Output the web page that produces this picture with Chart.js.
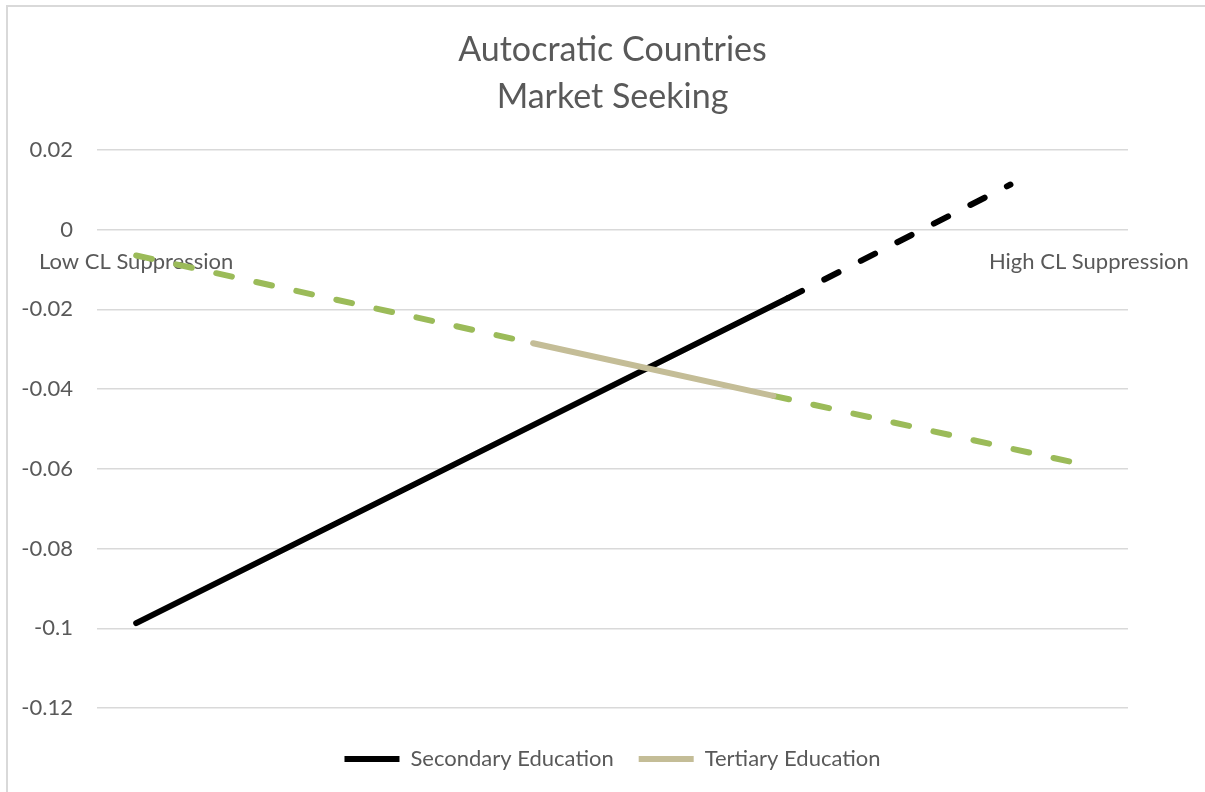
<!DOCTYPE html>
<html>
<head>
<meta charset="utf-8">
<script src="https://cdn.jsdelivr.net/npm/chart.js@4"></script>
<style>
  body { margin: 0; background: #fff; overflow: hidden; }
  #frame { position: absolute; left: 6px; top: 5px; width: 1220px; height: 810px; border: 2px solid #d9d9d9; }
  #wrap { position: absolute; left: 0; top: 0; width: 1205px; height: 792px; }
</style>
</head>
<body>
<div id="frame"></div>
<div id="wrap"><canvas id="chart" width="1205" height="792"></canvas></div>
<script>
// category labels on the horizontal axis and where they sit (0-100 scale)
const catLabels = ["Low CL Suppression", "High CL Suppression"];
const catPos = [3.8, 96.2];

// y axis ticks
const yTicks = [0.02, 0, -0.02, -0.04, -0.06, -0.08, -0.1, -0.12];

// Secondary education: solid part, then dashed part
const secSolidX = [3.8, 67.0];
const secSolidY = [-0.0987, -0.0172];
const secDashX = [67.0, 88.6];
const secDashY = [-0.0172, 0.0113];

// Tertiary education: dashed, solid, dashed
const terDashLeftX = [3.8, 42.3];
const terDashLeftY = [-0.0065, -0.0285];
const terSolidX = [42.3, 65.6];
const terSolidY = [-0.0285, -0.0417];
const terDashRightX = [65.6, 94.9];
const terDashRightY = [-0.0417, -0.0585];

const FONT = "Lato, 'Liberation Sans', sans-serif";
const TEXT = "#595959";

function pts(xs, ys) {
    return xs.map((x, i) => ({ x: x, y: ys[i] }));
}

function lineSet(label, xs, ys, color, dashed, order) {
    return {
        label: label,
        data: pts(xs, ys),
        borderColor: color,
        backgroundColor: color,
        borderWidth: 6,
        borderCapStyle: "round",
        borderJoinStyle: "round",
        borderDash: dashed ? [16, 25] : [],
        pointRadius: 0,
        pointHoverRadius: 0,
        fill: false,
        tension: 0,
        order: order
    };
}

const ctx = document.getElementById("chart").getContext("2d");
const chart = new Chart(ctx, {
    type: "line",
    data: {
        datasets: [
            lineSet("Secondary Education", secSolidX, secSolidY, "#000000", false, 2),
            lineSet("", secDashX, secDashY, "#000000", true, 2),
            lineSet("Tertiary Education", terSolidX, terSolidY, "#C4BD97", false, 0),
            lineSet("", terDashLeftX, terDashLeftY, "#9BBB59", true, 1),
            lineSet("", terDashRightX, terDashRightY, "#9BBB59", true, 1)
        ]
    },
    options: {
        responsive: false,
        animation: false,
        layout: { padding: { left: 0, right: 77, top: 0, bottom: 12 } },
        plugins: {
            title: {
                display: true,
                fullSize: false,
                text: ["Autocratic Countries", "Market Seeking"],
                color: TEXT,
                font: { family: FONT, size: 34, weight: "normal", lineHeight: 1.38 },
                padding: { top: 27, bottom: 29 }
            },
            legend: {
                position: "bottom",
                fullSize: false,
                title: { display: true, text: " ", font: { size: 10, lineHeight: 1 }, padding: { top: 5, bottom: 0 } },
                labels: {
                    usePointStyle: true,
                    pointStyle: "line",
                    pointStyleWidth: 55,
                    color: TEXT,
                    font: { family: FONT, size: 22 },
                    padding: 25,
                    filter: item => item.text !== "",
                    sort: (a, b) => a.datasetIndex - b.datasetIndex
                }
            },
            tooltip: { enabled: false }
        },
        scales: {
            x: {
                type: "linear",
                min: 0,
                max: 100,
                position: { y: 0 },
                grid: { display: false, drawTicks: false },
                border: { display: false },
                afterBuildTicks: scale => {
                    scale.ticks = catPos.map(v => ({ value: v }));
                },
                afterFit: scale => {
                    scale.paddingLeft = 0;
                    scale.paddingRight = 0;
                },
                ticks: {
                    autoSkip: false,
                    maxRotation: 0,
                    padding: 19,
                    color: TEXT,
                    font: { family: FONT, size: 22 },
                    callback: (v, i) => catLabels[i]
                }
            },
            y: {
                min: -0.12,
                max: 0.02,
                afterFit: scale => { scale.width = 97; },
                afterBuildTicks: scale => {
                    scale.ticks = yTicks.map(v => ({ value: v }));
                },
                grid: { color: "#d9d9d9", lineWidth: 1.5, drawTicks: false },
                border: { display: false },
                ticks: {
                    padding: 24,
                    color: TEXT,
                    font: { family: FONT, size: 22 },
                    callback: v => String(Number(v.toFixed(2)))
                }
            }
        }
    }
});
</script>
</body>
</html>
